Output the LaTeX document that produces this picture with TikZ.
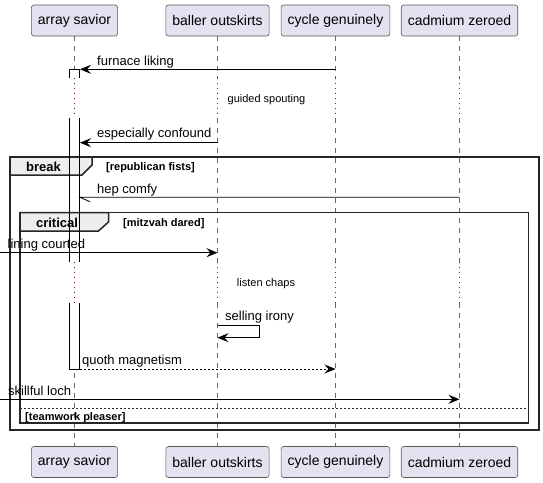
\documentclass[tikz,border=0pt]{standalone}
\usepackage{fontspec}
\setmainfont{Liberation Sans}
\usetikzlibrary{arrows.meta}
\definecolor{partfill}{HTML}{E2E2F0}
\definecolor{tabfill}{HTML}{EEEEEE}
\definecolor{delaycol}{HTML}{990033}

\tikzset{
  participant/.style={draw=black!65, fill=partfill, rounded corners=2.5pt, line width=0.6pt,
    minimum height=31pt, inner xsep=6.5pt, font=\fontsize{14}{16}\selectfont},
  lifeline/.style={draw=black!60, line width=0.6pt, dash pattern=on 5pt off 5pt},
  delayline/.style={draw=delaycol, line width=0.8pt, dash pattern=on 1pt off 4pt},
  msg/.style={line width=0.8pt, -{Stealth[length=11pt,width=9pt,inset=4pt]}},
  reply/.style={msg, dash pattern=on 2pt off 2pt},
  msgtext/.style={anchor=base west, inner sep=0pt, font=\fontsize{13}{15}\selectfont},
  delaytext/.style={anchor=base, inner sep=0pt, font=\fontsize{11}{13}\selectfont},
  frame/.style={draw=black!85, line width=1.5pt},
  tab/.style={draw=black!85, line width=1.5pt, fill=tabfill},
  grouptitle/.style={anchor=base, inner sep=0pt, font=\fontsize{13}{15}\selectfont\bfseries},
  guard/.style={anchor=base west, inner sep=0pt, font=\fontsize{11}{13}\selectfont\bfseries},
  bar/.style={fill=white},
  barline/.style={line width=0.8pt},
}

\begin{document}
\begin{tikzpicture}[x=1pt, y=-1pt]
\useasboundingbox (0,0) rectangle (543,482);

% participants and lifelines, dotted where delayed
\foreach \name/\x/\txt in {as/74.5/array savior,bo/217.5/baller outskirts,cg/335.5/cycle genuinely,cz/459.5/cadmium zeroed} {
  \node[participant] (\name top) at (\x,20.5) {\txt};
  \node[participant] (\name bot) at (\x,462) {\txt};
  \draw[lifeline] (\name top.south) -- (\x,78);
  \draw[delayline] (\x,78) -- (\x,118);
  \draw[lifeline] (\x,118) -- (\x,262);
  \draw[delayline] (\x,262) -- (\x,303);
  \draw[lifeline] (\x,303) -- (\name bot.north);
}

% activation of array savior (fill)
\fill[bar] (69.5,69) rectangle (79.5,78);
\fill[bar] (69.5,118) rectangle (79.5,262);
\fill[bar] (69.5,303) rectangle (79.5,369);

% break group
\draw[frame] (10,157) rectangle (539,430);
\draw[tab] (10,157) -- (92,157) -- (92,165) -- (82,175) -- (10,175) -- cycle;
\node[grouptitle] (break title) at (43.5,171.5) {break};
\node[guard] (break guard) at (106,170.5) {[republican fists]};

% critical group
\draw[frame] (20,212.7) rectangle (528.5,423);
\draw[tab] (20,212.7) -- (108.5,212.7) -- (108.5,222) -- (98.5,231) -- (20,231) -- cycle;
\node[grouptitle] (critical title) at (57,227) {critical};
\node[guard] (critical guard) at (123,226) {[mitzvah dared]};
% else
\draw[black!85, line width=0.8pt, dash pattern=on 2pt off 2pt] (20,408.3) -- (528.5,408.3);
\node[guard] (else guard) at (25,420) {[teamwork pleaser]};

% activation of array savior (edges)
\draw[barline] (69.5,78) -- (69.5,69) -- (79.5,69) -- (79.5,78);
\draw[barline] (69.5,118) -- (69.5,262) (79.5,118) -- (79.5,262);
\draw[barline] (69.5,303) -- (69.5,369) -- (79.5,369) -- (79.5,303);

% furnace liking
\coordinate (fl from) at (335.5,69.3);
\coordinate (fl to) at (80,69.3);
\draw[msg] (fl from) -- (fl to);
\node[msgtext] (fl text) at (97,65) {furnace liking};

% delay
\node[delaytext] (gs text) at (266.5,102) {guided spouting};

% especially confound
\coordinate (ec from) at (217.5,142.7);
\coordinate (ec to) at (80,142.7);
\draw[msg] (ec from) -- (ec to);
\node[msgtext] (ec text) at (97,137.5) {especially confound};

% hep comfy
\coordinate (hc from) at (459.5,197.3);
\coordinate (hc to) at (80,197.3);
\draw[line width=0.8pt] (hc from) -- (hc to) -- ++(10,4.4);
\node[msgtext] (hc text) at (97,193) {hep comfy};

% lining courted
\coordinate (lc from) at (0,252.7);
\coordinate (lc to) at (217.5,252.7);
\draw[msg] (lc from) -- (lc to);
\node[msgtext] (lc text) at (7.5,248.5) {lining courted};

% delay
\node[delaytext] (ls text) at (266,286.5) {listen chaps};

% selling irony
\coordinate (si from) at (217.5,325.3);
\coordinate (si to) at (217.5,337.7);
\draw[msg] (si from) -- ++(42,0) -- ++(0,12.4) -- (si to);
\node[msgtext] (si text) at (225,320.7) {selling irony};

% quoth magnetism
\coordinate (qm from) at (79.5,369);
\coordinate (qm to) at (335.5,369);
\draw[reply] (qm from) -- (qm to);
\node[msgtext] (qm text) at (82,364.7) {quoth magnetism};

% skillful loch
\coordinate (sl from) at (0,399.3);
\coordinate (sl to) at (459.5,399.3);
\draw[msg] (sl from) -- (sl to);
\node[msgtext] (sl text) at (8,395) {skillful loch};

\end{tikzpicture}
\end{document}
